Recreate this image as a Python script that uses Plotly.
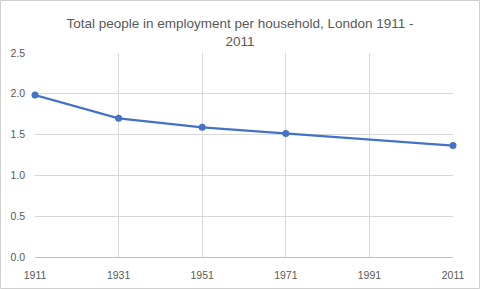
import plotly.graph_objects as go

years = [1911, 1931, 1951, 1971, 2011]
values = [1.985, 1.70, 1.59, 1.515, 1.365]
x_ticks = [1911, 1931, 1951, 1971, 1991, 2011]
y_ticks = [0.0, 0.5, 1.0, 1.5, 2.0, 2.5]
title = "Total people in employment per household, London 1911 -<br>2011"

W, H = 480, 289
L, R, T, B = 35, 27, 53, 32
pw, ph = W - L - R, H - T - B

fig = go.Figure()
fig.add_trace(go.Scatter(
    x=years, y=values, mode="lines+markers",
    line=dict(color="#4472C4", width=2.25),
    marker=dict(color="#4472C4", size=7),
    hoverinfo="skip", showlegend=False, cliponaxis=False,
))

font_family = "Liberation Sans, Arial, sans-serif"
fig.update_layout(
    width=W, height=H,
    margin=dict(l=L, r=R, t=T, b=B, autoexpand=False),
    paper_bgcolor="white", plot_bgcolor="white",
    title=dict(text=title, x=0.5, xanchor="center", y=1 - 28 / H, yanchor="middle",
               font=dict(family=font_family, size=13.5, color="#595959")),
    xaxis=dict(range=[1911, 2011], tickvals=x_ticks, ticktext=[str(v) for v in x_ticks],
               showgrid=True, gridcolor="#d9d9d9", gridwidth=1,
               showline=True, linecolor="#bfbfbf", linewidth=1, automargin=False,
               zeroline=False, ticks="", ticklen=0, ticklabelstandoff=8,
               tickfont=dict(family=font_family, size=10.5, color="#595959")),
    yaxis=dict(range=[0, 2.5], tickvals=y_ticks, ticktext=[f"{v:.1f}" for v in y_ticks],
               showgrid=True, gridcolor="#d9d9d9", gridwidth=1, automargin=False,
               showline=False, zeroline=False, ticks="", ticklabelstandoff=9,
               tickfont=dict(family=font_family, size=10.5, color="#595959")),
)

# chart-area border
fig.add_shape(type="rect", xref="paper", yref="paper",
              x0=(0.5 - L) / pw, x1=(W - 0.5 - L) / pw,
              y0=(H - B - (H - 0.5)) / ph, y1=(H - B - 0.5) / ph,
              line=dict(color="#d0d0d0", width=1), layer="above")

fig.write_html("out.html")
